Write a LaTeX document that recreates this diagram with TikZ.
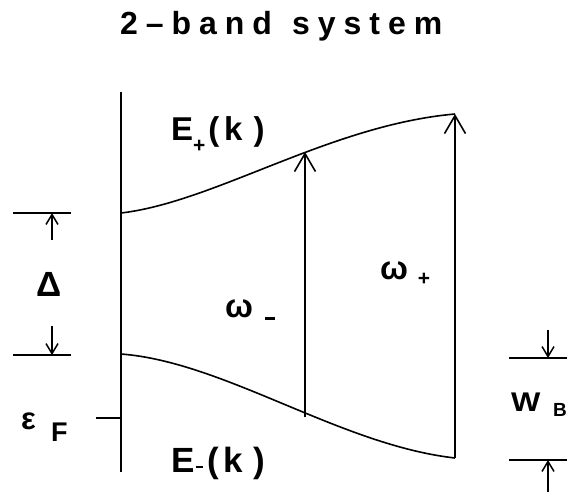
\documentclass[tikz,border=0pt]{standalone}
\usepackage{fontspec}
\setmainfont{Liberation Sans}
\usetikzlibrary{arrows.meta}
\tikzset{
  ln/.style={line width=1.6pt},
  bigarr/.style={ln,-{Straight Barb[length=18pt,width=21pt,line width=1.6pt]}},
  smallarr/.style={ln,-{Straight Barb[length=10pt,width=12pt,line width=1.5pt]}},
  lbl/.style={inner sep=0pt,outer sep=0pt,font=\bfseries},
}
\newcommand{\fsz}[1]{\fontsize{#1}{#1}\selectfont}
\begin{document}
\begin{tikzpicture}[x=1pt,y=-1pt]
\useasboundingbox (0,0) rectangle (567,493);
% title
\node[lbl,anchor=base west] (title) at (120,34) {\fsz{32}\addfontfeature{LetterSpace=25}2–band\hspace{20pt}system};
% axis
\coordinate (axT) at (121,92);
\coordinate (axB) at (121,472);
\draw[ln] (axT) -- (axB);
% bands
\coordinate (u0) at (121,213);
\coordinate (u1) at (305,152);
\coordinate (u2) at (455,114);
\coordinate (l0) at (121,354);
\coordinate (l1) at (305,417);
\coordinate (l2) at (455,458);
\draw[ln] (u0) .. controls (215,202) and (330,125) .. (u2);
\draw[ln] (l0) .. controls (225,362) and (340,445) .. (l2);
% transitions
\draw[bigarr] (l1) -- (u1);
\draw[bigarr] (l2) -- (u2);
% Delta
\coordinate (dT0) at (13,213);
\coordinate (dT1) at (71,213);
\coordinate (dB0) at (13,355);
\coordinate (dB1) at (71,355);
\draw[ln] (dT0) -- (dT1);
\draw[ln] (dB0) -- (dB1);
\coordinate (dAs) at (52,240);
\coordinate (dAt) at (52,213);
\coordinate (dBs) at (52,326);
\coordinate (dBt) at (52,355);
\draw[smallarr] (dAs) -- (dAt);
\draw[smallarr] (dBs) -- (dBt);
\node[lbl,anchor=base] (delta) at (49,296) {\fsz{35}Δ};
% epsilon F
\coordinate (ef0) at (96,418);
\coordinate (ef1) at (121,418);
\draw[ln] (ef0) -- (ef1);
\node[lbl,anchor=base west] (eps) at (21,429) {\fsz{31}ε};
\node[lbl,anchor=base west] (F) at (51,441) {\fsz{27}F};
% W_B
\coordinate (wT0) at (509,358);
\coordinate (wT1) at (567,358);
\coordinate (wB0) at (509,460);
\coordinate (wB1) at (567,460);
\draw[ln] (wT0) -- (wT1);
\draw[ln] (wB0) -- (wB1);
\coordinate (wAs) at (548,330);
\coordinate (wAt) at (548,358);
\coordinate (wBs) at (548,492);
\coordinate (wBt) at (548,460);
\draw[smallarr] (wAs) -- (wAt);
\draw[smallarr] (wBs) -- (wBt);
\node[lbl,anchor=base west] (W) at (511,411) {\fsz{27}\scalebox{1.15}[1]{W}};
\node[lbl,anchor=base west] (B) at (553,416) {\fsz{19}B};
% band labels
\node[lbl,anchor=base west] (Ep) at (171,140) {\fsz{33}E\hspace{0pt}\raisebox{-12pt}{\fsz{21}+}\hspace{3pt}(\hspace{5pt}k\hspace{11pt})};
\node[lbl,anchor=base west] (Em) at (171,472) {\fsz{35}E\hspace{2pt}\rule[4pt]{7pt}{2.5pt}\hspace{4pt}(\hspace{5pt}k\hspace{10pt})};
% omega labels
\node[lbl,anchor=base west] (wm) at (225,317) {\fsz{33}ω\hspace{12pt}\rule[-2.5pt]{10pt}{2.5pt}};
\node[lbl,anchor=base west] (wp) at (380,279) {\fsz{33}ω\hspace{10pt}\raisebox{-6pt}{\fsz{21}+}};
\end{tikzpicture}
\end{document}
